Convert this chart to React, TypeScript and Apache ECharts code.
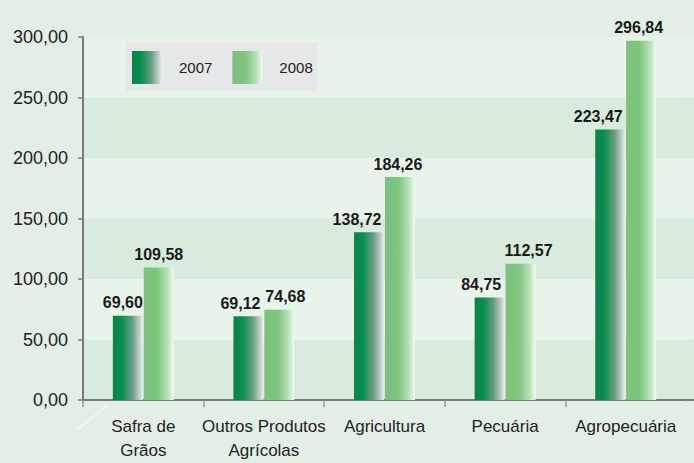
import React, { useEffect, useRef } from "react";
import * as echarts from "echarts";

const categories = ["Safra de\nGrãos", "Outros Produtos\nAgrícolas", "Agricultura", "Pecuária", "Agropecuária"];
const values2007 = [69.6, 69.12, 138.72, 84.75, 223.47];
const values2008 = [109.58, 74.68, 184.26, 112.57, 296.84];
const seriesNames = ["2007", "2008"];
const yMax = 300;
const yInterval = 50;
// horizontal nudges of the value labels (px), as in the reference
const labelShift2007 = [-5, -8, -12, -8.5, -12];
const labelShift2008 = [0, 6, -2, 8, -2.5];

const fmt = (v: number) => v.toFixed(2).replace(".", ",");

const grad2007 = new echarts.graphic.LinearGradient(0, 0, 1, 0, [
  { offset: 0, color: "#00874a" },
  { offset: 0.3, color: "#0a8c50" },
  { offset: 0.65, color: "#6f9c84" },
  { offset: 0.9, color: "#c5d2cb" },
  { offset: 1, color: "#eef2ef" },
]);
const grad2008 = new echarts.graphic.LinearGradient(0, 0, 1, 0, [
  { offset: 0, color: "#79c37b" },
  { offset: 0.45, color: "#7ec680" },
  { offset: 0.8, color: "#b9e1b9" },
  { offset: 0.95, color: "#e4f4e3" },
  { offset: 1, color: "#f6fbf5" },
]);

const labelFont = "'Liberation Sans', Arial, sans-serif";
const axisFont = "'Liberation Sans', Arial, sans-serif";

export default function App() {
  const ref = useRef<HTMLDivElement>(null);
  useEffect(() => {
    if (!ref.current) return;
    const chart = echarts.init(ref.current, undefined, { renderer: "svg" });
    const valueLabel = {
      show: true,
      position: "top" as const,
      distance: 5,
      formatter: (p: any) => fmt(p.value),
      fontFamily: labelFont,
      fontWeight: "bold" as const,
      fontSize: 16,
      color: "#1a1a1a",
    };
    const mk = (vals: number[], shifts: number[]) =>
      vals.map((v, i) => ({ value: v, label: { offset: [shifts[i], 0] } }));
    const bandColors = ["#e8f3ea", "#d9ebdc"];
    const bands = [0, 1, 2, 3, 4, 5].map((i) => ({
      type: "rect",
      shape: { x: 686, y: 37 + i * 60.5, width: 8, height: 60.5 },
      style: { fill: bandColors[i % 2] },
      z: -1,
    }));
    chart.setOption({
      animation: false,
      backgroundColor: "#e3efe5",
      graphic: [
        ...bands,
        { type: "line", shape: { x1: 686, y1: 400, x2: 694, y2: 400 }, style: { stroke: "#7b7b7b", lineWidth: 2 } },
        { type: "rect", shape: { x: 683, y: 401.5, width: 8, height: 8 }, style: { fill: "#e3efe5" }, z: 100 },
        { type: "line", shape: { x1: 77, y1: 430, x2: 108, y2: 405 }, style: { stroke: "#f6faf6", lineWidth: 1.5 } },
      ],
      legend: {
        left: 126,
        top: 42,
        orient: "horizontal",
        backgroundColor: "#e6e7e9",
        padding: [9, 5, 7, 6],
        itemWidth: 30,
        itemHeight: 33,
        itemGap: 20,
        icon: "rect",
        data: seriesNames,
        textStyle: {
          fontFamily: axisFont,
          fontSize: 15,
          color: "#222",
          padding: [0, 0, 0, 12],
        },
      },
      grid: { left: 83, right: 8, top: 37, bottom: 63, containLabel: false },
      xAxis: {
        type: "category",
        data: categories,
        axisLine: { show: true, lineStyle: { color: "#7b7b7b", width: 2 } },
        axisTick: { show: true, length: 7, lineStyle: { color: "#999", width: 1.5 } },
        axisLabel: {
          interval: 0,
          margin: 14,
          fontFamily: axisFont,
          fontSize: 17,
          lineHeight: 24,
          color: "#222",
        },
        splitLine: { show: false },
      },
      yAxis: {
        type: "value",
        min: 0,
        max: yMax,
        interval: yInterval,
        axisLine: { show: true, lineStyle: { color: "#7b7b7b", width: 2 } },
        axisTick: { show: true, length: 5, lineStyle: { color: "#7b7b7b", width: 1.5 } },
        axisLabel: {
          margin: 15,
          formatter: (v: number) => fmt(v),
          fontFamily: axisFont,
          fontSize: 18,
          color: "#222",
        },
        splitLine: { show: false },
        splitArea: { show: true, areaStyle: { color: ["#d9ebdc", "#e8f3ea"] } },
      },
      series: [
        {
          name: seriesNames[0],
          type: "bar",
          data: mk(values2007, labelShift2007),
          barWidth: 30,
          barGap: "3%",
          itemStyle: { color: grad2007 },
          label: valueLabel,
        },
        {
          name: seriesNames[1],
          type: "bar",
          data: mk(values2008, labelShift2008),
          barWidth: 30,
          itemStyle: { color: grad2008 },
          label: valueLabel,
        },
      ],
    });
    return () => chart.dispose();
  }, []);
  return <div ref={ref} style={{ width: 694, height: 463, position: "absolute", left: 0, top: 0 }} />;
}
